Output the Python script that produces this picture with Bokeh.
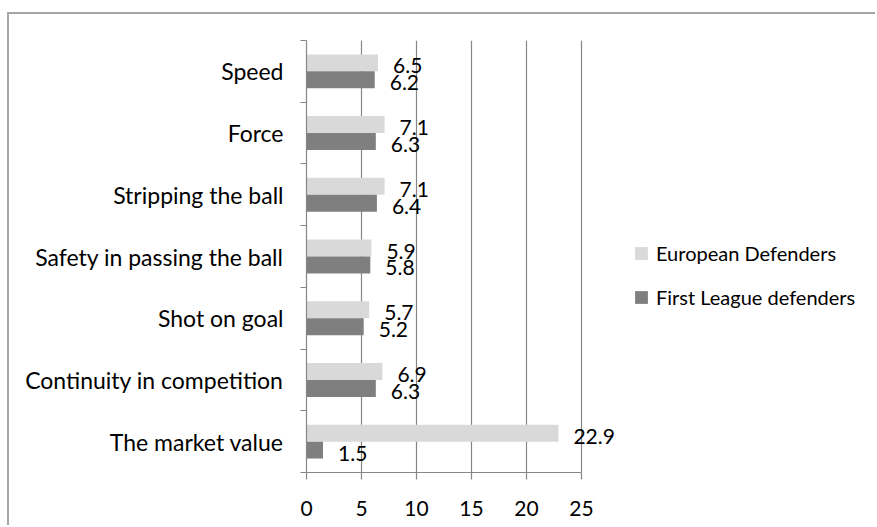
from bokeh.plotting import figure
from bokeh.models import Range1d, FixedTicker, ColumnDataSource, Legend, LegendItem
from bokeh.core.properties import value
from bokeh.embed import file_html
from bokeh.resources import INLINE

# Ratings of defenders, categories listed top to bottom
categories = ["Speed", "Force", "Stripping the ball", "Safety in passing the ball",
              "Shot on goal", "Continuity in competition", "The market value"]
european = [6.5, 7.1, 7.1, 5.9, 5.7, 6.9, 22.9]
first_league = [6.2, 6.3, 6.4, 5.8, 5.2, 6.3, 1.5]
x_ticks = [0, 5, 10, 15, 20, 25]

FONT = "Lato"
GRID = "#868686"
n = len(categories)

# category i sits at an odd slot, boundaries on even slots (top category highest)
centers = [2 * (n - 1 - i) + 1 for i in range(n)]
bar_h = 0.55

src_eu = ColumnDataSource(dict(y=[c + bar_h / 2 for c in centers], v=european,
                               t=[f"{v:.1f}" for v in european]))
src_fl = ColumnDataSource(dict(y=[c - bar_h / 2 for c in centers], v=first_league,
                               t=[f"{v:.1f}" for v in first_league]))

# the frame runs to the right edge so value labels and legend are not clipped;
# axis and grid are bounded to 0..25
p = figure(width=868, height=513, output_backend="svg", toolbar_location=None,
           x_range=Range1d(0, 51.9), y_range=Range1d(0, 2 * n),
           min_border_left=297, min_border_right=0, min_border_top=26,
           min_border_bottom=55, margin=(12, 0, 0, 7),
           styles={"border-top": "2px solid #a6a6a6",
                   "border-left": "2px solid #a6a6a6"})
p.outline_line_color = None
p.background_fill_color = "white"
p.border_fill_color = "white"

r_eu = p.hbar(y="y", right="v", left=0, height=bar_h, source=src_eu,
              fill_color="#d9d9d9", line_color=None)
r_fl = p.hbar(y="y", right="v", left=0, height=bar_h, source=src_fl,
              fill_color="#7f7f7f", line_color=None)

for src in (src_eu, src_fl):
    p.text(x="v", y="y", text="t", source=src, x_offset=15, y_offset=3,
           text_font=value(FONT), text_font_size="21px", text_color="black",
           text_baseline="middle", text_align="left")

# grid
p.ygrid.visible = False
p.xgrid.ticker = FixedTicker(ticks=x_ticks)
p.xgrid.bounds = (0, 25)
p.xgrid.grid_line_color = GRID
p.xgrid.grid_line_width = 1.2

# x axis
xa = p.xaxis[0]
xa.ticker = FixedTicker(ticks=x_ticks)
xa.bounds = (0, 25)
xa.axis_line_color = GRID
xa.axis_line_width = 1.2
xa.major_tick_line_color = GRID
xa.major_tick_line_width = 1.2
xa.major_tick_out = 7
xa.major_tick_in = 0
xa.minor_tick_line_color = None
xa.major_label_text_font = FONT
xa.major_label_text_font_size = "21px"
xa.major_label_text_color = "black"
xa.major_label_standoff = 21

# y axis: labels at category centers, tick marks at boundaries
ya = p.yaxis[0]
ya.ticker = FixedTicker(ticks=centers, minor_ticks=list(range(0, 2 * n + 1, 2)))
ya.major_label_overrides = {c: name for c, name in zip(centers, categories)}
ya.axis_line_color = GRID
ya.axis_line_width = 1.2
ya.major_tick_line_color = None
ya.major_tick_out = 0
ya.major_tick_in = 0
ya.minor_tick_line_color = GRID
ya.minor_tick_line_width = 1.2
ya.minor_tick_out = 6
ya.minor_tick_in = 0
ya.major_label_text_font = FONT
ya.major_label_text_font_size = "23px"
ya.major_label_text_color = "black"
ya.major_label_standoff = 17

legend = Legend(items=[LegendItem(label="European Defenders", renderers=[r_eu]),
                       LegendItem(label="First League defenders", renderers=[r_fl])],
                location=(327, 163), orientation="vertical")
legend.label_text_font = FONT
legend.label_text_font_size = "20px"
legend.label_text_color = "black"
legend.glyph_width = 16
legend.glyph_height = 16
legend.label_standoff = 7
legend.spacing = 20
legend.padding = 0
legend.margin = 0
legend.border_line_color = None
legend.background_fill_alpha = 0
p.add_layout(legend)

open("out.html", "w").write(file_html(p, INLINE))
